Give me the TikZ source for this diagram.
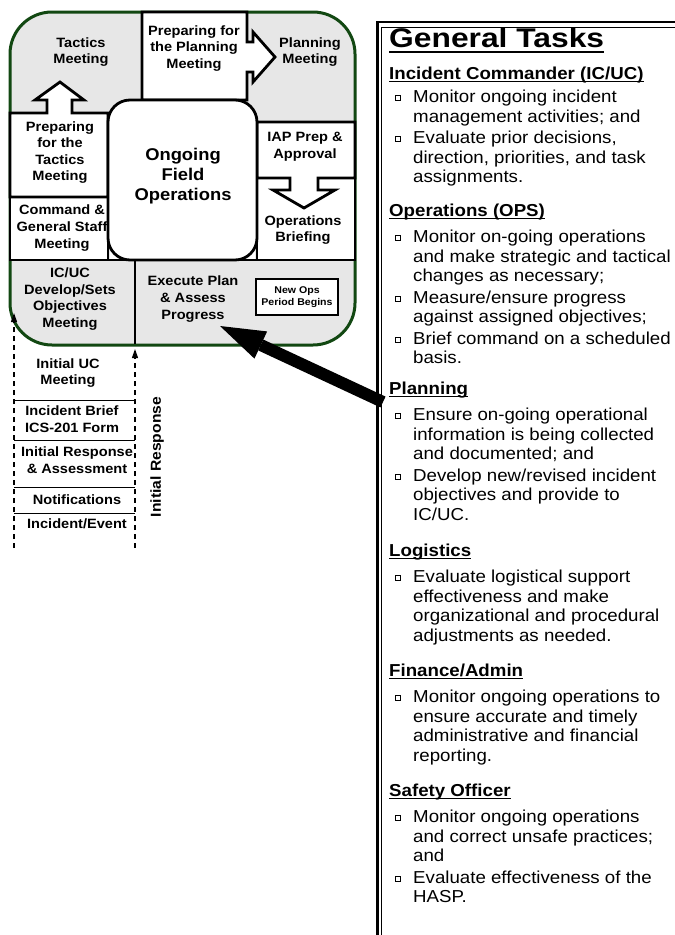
\documentclass[tikz,border=0pt]{standalone}
\usepackage{fontspec}
\setmainfont{Liberation Sans}[FakeStretch=1.08]
\usetikzlibrary{arrows.meta}

\definecolor{cyclegreen}{RGB}{18,72,18}
\definecolor{cyclegray}{RGB}{231,231,231}

% underline with a given drop (#1) and thickness (#2)
\newsavebox\ulsave
\newcommand\undl[3]{\sbox\ulsave{#3}\leavevmode\rlap{\rule[-#1]{\wd\ulsave}{#2}}\usebox\ulsave}
% small hollow square used as list bullet
\newcommand\sqbullet{\raisebox{2.2pt}{\setlength\fboxsep{0pt}\setlength\fboxrule{0.7pt}\fbox{\rule{0pt}{4.4pt}\hspace{4.4pt}}}}
\newcommand\taskhead[1]{\noindent\undl{3.4pt}{1.3pt}{\bfseries #1}\par}
\newcommand\taskitem[1]{\par\noindent\hangindent=24pt\hangafter=1\makebox[24pt][l]{\hspace{6pt}\sqbullet}#1\par}

\tikzset{
  boxline/.style={line width=2.8pt, draw=black},
  lbl/.style={font=\bfseries\fontsize{13.5}{16.6}\selectfont, align=center, inner sep=0pt},
  biglbl/.style={font=\bfseries\fontsize{17}{20}\selectfont, align=center, inner sep=0pt},
  newops/.style={draw=black, line width=1.3pt, fill=white, minimum width=82pt, minimum height=36pt,
                 font=\bfseries\fontsize{9.8}{11.7}\selectfont, align=center, inner sep=0pt},
  dashline/.style={line width=1.2pt, dash pattern=on 5pt off 4pt},
  sepline/.style={line width=1pt},
  panel/.style={font=\fontsize{17.3}{19.5}\selectfont, inner sep=0pt, anchor=base west},
}

\begin{document}
\begin{tikzpicture}[x=1pt, y=-1pt]
\useasboundingbox (0,0) rectangle (675,935);
\fill[white] (0,0) rectangle (675,935);

% planning cycle frame
\draw[draw=cyclegreen, line width=3pt, fill=cyclegray, rounded corners=42pt] (10,12) rectangle (355,345);

% dividers of the lower band
\coordinate (divL) at (10,260);
\coordinate (divR) at (355,260);
\coordinate (midTop) at (135,260);
\coordinate (midBot) at (135,344);
\draw[boxline] (divL) -- (divR);
\draw[boxline] (midTop) -- (midBot);

% left column boxes
\draw[boxline, fill=white] (10,197) rectangle (108,260);
\draw[boxline, fill=white] (10,113) -- (47,113) -- (47,100) -- (35,100) -- (60,82) -- (84,100)
  -- (72,100) -- (72,113) -- (108,113) -- (108,197) -- (10,197) -- cycle;

% right column boxes
\draw[boxline, fill=white] (257,178) rectangle (355,260);
\draw[boxline, fill=white] (257,122) -- (355,122) -- (355,178) -- (318,178) -- (318,190) -- (335,190)
  -- (304,208) -- (273,190) -- (290,190) -- (290,178) -- (257,178) -- cycle;

% top box with arrow to the right
\draw[boxline, fill=white] (142,12) -- (247,12) -- (247,42) -- (253,42) -- (253,32) -- (275,57)
  -- (253,82) -- (253,72) -- (247,72) -- (247,100) -- (142,100) -- cycle;

% centre box
\fill[white] (110,200) rectangle (255,258.6);
\draw[boxline, fill=white, rounded corners=22pt] (108,100) rectangle (257,260);

% labels of the cycle
\node[lbl] (tactics) at (81,52) {Tactics\\Meeting};
\node[lbl] (prepplan) at (194,48.5) {Preparing for\\the Planning\\Meeting};
\node[lbl] (planmeet) at (310,52) {Planning\\Meeting};
\node[lbl] (preptact) at (60,152.5) {Preparing\\for the\\Tactics\\Meeting};
\node[biglbl] (ongoing) at (183,176) {Ongoing\\Field\\Operations};
\node[lbl] (iap) at (305,147) {IAP Prep \&\\Approval};
\node[lbl] (opsbrief) at (303,230) {Operations\\Briefing};
\node[lbl] (cgs) at (62,228) {Command \&\\General Staff\\Meeting};
\node[lbl] (objmeet) at (70,299) {IC/UC\\Develop/Sets\\Objectives\\Meeting};
\node[lbl] (execute) at (193,299) {Execute Plan\\\& Assess\\Progress};
\node[newops] (newops) at (297,297) {New Ops\\Period Begins};

% initial response column
\coordinate (lbot) at (14,548);
\coordinate (ltop) at (14,313);
\coordinate (rbot) at (135,548);
\coordinate (rtop) at (135,349);
\draw[dashline, -{Triangle[length=9pt,width=6pt]}] (lbot) -- (ltop);
\draw[dashline, -{Triangle[length=9pt,width=6pt]}] (rbot) -- (rtop);
\foreach \yy/\nm in {400/a, 440/b, 487/c, 513/d} {
  \coordinate (sep\nm L) at (14,\yy);
  \coordinate (sep\nm R) at (135,\yy);
  \draw[sepline] (sep\nm L) -- (sep\nm R);
}
\node[lbl] (initucm) at (68,373) {Initial UC\\Meeting};
\node[lbl] (brief) at (72,419) {Incident Brief\\ICS-201 Form};
\node[lbl] (initresp) at (77,460) {Initial Response\\\& Assessment};
\node[lbl] (notif) at (77,500) {Notifications};
\node[lbl] (event) at (77,524) {Incident/Event};
\node[font=\bfseries\fontsize{14.5}{16}\selectfont, rotate=90, inner sep=0pt] (irvert) at (157,457) {Initial Response};

% task panel frame
\draw[line width=2.6pt] (377.5,935) -- (377.5,22) -- (675,22);
\draw[line width=0.9pt] (381.5,935) -- (381.5,27.5) -- (675,27.5);

% task panel text
\node[inner sep=0pt, anchor=base west] (gtitle) at (389,47)
  {\fontsize{27}{30}\selectfont\bfseries\undl{6.2pt}{2.2pt}{\scalebox{1.09}[1]{General Tasks}}};

\node[panel] (ic) at (389,79) {\parbox[t]{290pt}{
  \taskhead{Incident Commander (IC/UC)}\vspace{4pt}
  \taskitem{Monitor ongoing incident\newline management activities; and}\vspace{2pt}
  \taskitem{Evaluate prior decisions,\newline direction, priorities, and task\newline assignments.}}};

\node[panel] (ops) at (389,216) {\parbox[t]{290pt}{
  \taskhead{Operations (OPS)}\vspace{7pt}
  \taskitem{Monitor on-going operations\newline and make strategic and tactical\newline changes as necessary;}\vspace{2pt}
  \taskitem{Measure/ensure progress\newline against assigned objectives;}\vspace{2pt}
  \taskitem{Brief command on a scheduled\newline basis.}}};

\node[panel] (plan) at (389,394) {\parbox[t]{290pt}{
  \taskhead{Planning}\vspace{7pt}
  \taskitem{Ensure on-going operational\newline information is being collected\newline and documented; and}\vspace{2pt}
  \taskitem{Develop new/revised incident\newline objectives and provide to\newline IC/UC.}}};

\node[panel] (logi) at (389,556) {\parbox[t]{290pt}{
  \taskhead{Logistics}\vspace{7pt}
  \taskitem{Evaluate logistical support\newline effectiveness and make\newline organizational and procedural\newline adjustments as needed.}}};

\node[panel] (fin) at (389,676) {\parbox[t]{290pt}{
  \taskhead{Finance/Admin}\vspace{7pt}
  \taskitem{Monitor ongoing operations to\newline ensure accurate and timely\newline administrative and financial\newline reporting.}}};

\node[panel] (safety) at (389,796) {\parbox[t]{290pt}{
  \taskhead{Safety Officer}\vspace{7pt}
  \taskitem{Monitor ongoing operations\newline and correct unsafe practices;\newline and}\vspace{2pt}
  \taskitem{Evaluate effectiveness of the\newline HASP.}}};

% planning tasks feed the execution step
\coordinate (arrtail) at (383,402);
\coordinate (arrtip) at (220,326);
\draw[line width=12pt, -{Triangle[length=45pt,width=30pt,line width=0pt]}] (arrtail) -- (arrtip);
\end{tikzpicture}
\end{document}
